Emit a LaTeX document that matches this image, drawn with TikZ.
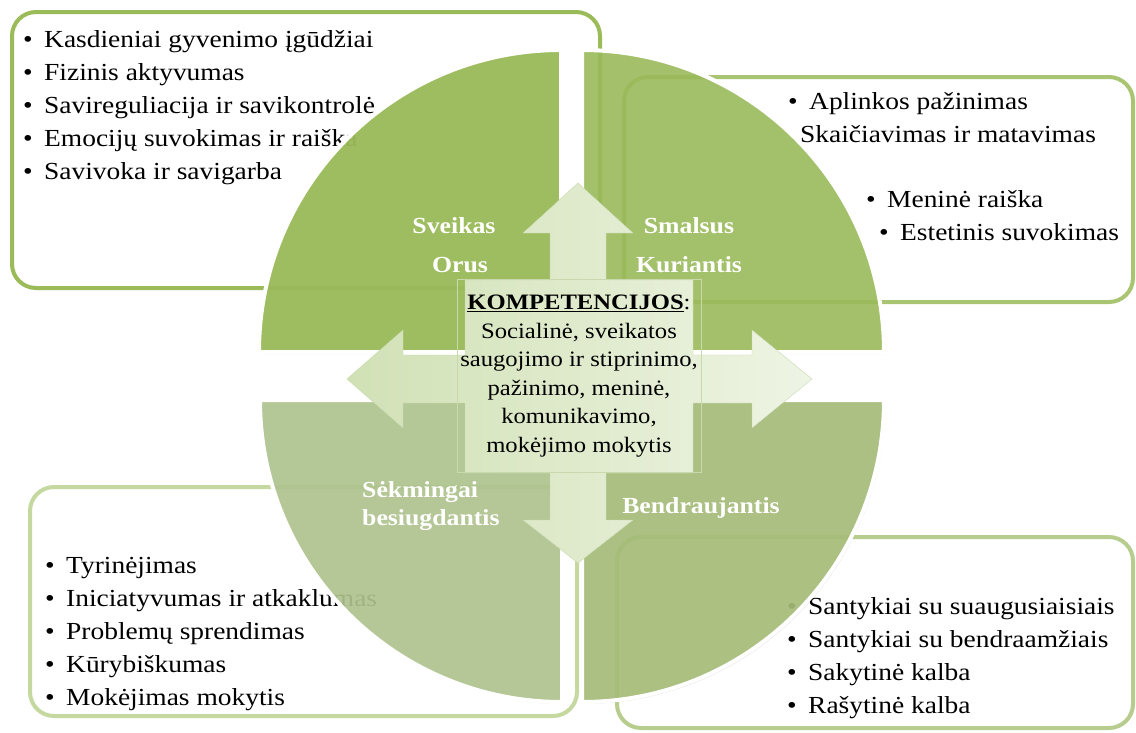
\documentclass[tikz,border=0pt]{standalone}
\usepackage{fontspec}
\setmainfont{Liberation Serif}[FakeStretch=1.12]
\usepackage{tikz}
\usetikzlibrary{shadows}
\definecolor{kgreen}{HTML}{9BBB59}
\definecolor{kpale}{HTML}{C5D89F}
\definecolor{kbrline}{HTML}{B7CD8E}
\definecolor{kgrey}{HTML}{B0C48F}
\definecolor{kbr}{HTML}{A6BD78}
\definecolor{arrdark}{HTML}{D1E1B5}
\definecolor{arrlight}{HTML}{EEF4E4}
\definecolor{arredge}{HTML}{C9D9AE}

\newcommand{\bitem}[1]{\makebox[21pt][l]{\textbullet}#1}

\begin{document}
\begin{tikzpicture}[x=1pt,y=-1pt,
    box/.style={draw=kgreen,line width=4pt,fill=white,rounded corners=24pt},
    quad/.style={draw=white,line width=4pt,drop shadow={shadow xshift=1.5pt,shadow yshift=-2pt,opacity=0.2}},
    txt/.style={anchor=base west,inner sep=0pt,font=\fontsize{24.5}{33}\selectfont},
    lbl/.style={text=white,inner sep=0pt,font=\fontsize{23}{28}\selectfont\bfseries}]
    \useasboundingbox (0,0) rectangle (1136,732);
    % boxes with their lists
    \draw[box] (12,12) rectangle (600,288);
    \draw[box,draw=kgreen!85] (624,77) rectangle (1133,302);
    \draw[box,draw=kpale] (30,487) rectangle (577,716);
    \draw[box,draw=kbrline] (617,537) rectangle (1133,728);
    \foreach \t [count=\i] in {Kasdieniai gyvenimo įgūdžiai,Fizinis aktyvumas,
        Savireguliacija ir savikontrolė,Emocijų suvokimas ir raiška,Savivoka ir savigarba}
    \node[txt] (tl\i) at (23,{14+33*\i}) {\bitem{\t}};
    \node[txt] (tr1) at (788,109) {\bitem{Aplinkos pažinimas}};
    \node[txt] (tr2) at (800,142) {Skaičiavimas ir matavimas};
    \node[txt] (tr3) at (866,207) {\bitem{Meninė raiška}};
    \node[txt] (tr4) at (879,240) {\bitem{Estetinis suvokimas}};
    \foreach \t [count=\i] in {Tyrinėjimas,Iniciatyvumas ir atkaklumas,
        Problemų sprendimas,Kūrybiškumas,Mokėjimas mokytis}
    \node[txt] (bl\i) at (45,{540+33*\i}) {\bitem{\t}};
    \foreach \t [count=\i] in {Santykiai su suaugusiaisiais,Santykiai su bendraamžiais,
        Sakytinė kalba,Rašytinė kalba}
    \node[txt] (br\i) at (787,{581+33*\i}) {\bitem{\t}};
    % quarters of the circle
    \filldraw[quad,fill=kgreen,fill opacity=0.95] (561,352) -- (259,352)
        arc[start angle=180,end angle=270,radius=302] -- cycle;
    \filldraw[quad,fill=kgreen,fill opacity=0.88] (582,352) -- (582,50)
        arc[start angle=270,end angle=360,radius=302] -- cycle;
    \filldraw[quad,fill=kgrey,fill opacity=0.9] (562,400) -- (562,702)
        arc[start angle=90,end angle=180,radius=302] -- cycle;
    \filldraw[quad,fill=kbr,fill opacity=0.9] (582,400) -- (884,400)
        arc[start angle=0,end angle=90,radius=302] -- cycle;
    % the cross
    \draw[draw=arredge,left color=arrdark,right color=arrlight]
        (465,280) -- (550,280) -- (550,233) -- (523,233) -- (578,183) -- (633,233)
        -- (606,233) -- (606,280) -- (693,280) -- (693,355) -- (752,355) -- (752,330)
        -- (812,379) -- (752,428) -- (752,403) -- (693,403) -- (693,473) -- (606,473)
        -- (606,520) -- (633,520) -- (578,563) -- (523,520) -- (550,520) -- (550,473)
        -- (465,473) -- (465,403) -- (403,403) -- (403,428) -- (347,379) -- (403,330)
        -- (403,355) -- (465,355) -- cycle;
    \node[draw=arredge,minimum width=228pt,minimum height=193pt,align=center,
        font=\fontsize{22}{28.6}\selectfont] (komp) at (579,376)
        {\underline{\textbf{KOMPETENCIJOS}}:\\Socialinė, sveikatos\\saugojimo ir stiprinimo,\\
        pažinimo, meninė,\\komunikavimo,\\mokėjimo mokytis};
    \node[lbl] (sveikas) at (454,226) {Sveikas};
    \node[lbl] (orus) at (460,265) {Orus};
    \node[lbl] (smalsus) at (689,226) {Smalsus};
    \node[lbl] (kuriantis) at (689,265) {Kuriantis};
    \node[lbl,anchor=west] (sekm) at (362,492) {Sėkmingai};
    \node[lbl,anchor=west] (besiugd) at (362,520) {besiugdantis};
    \node[lbl] (bendr) at (701,508) {Bendraujantis};
\end{tikzpicture}
\end{document}
